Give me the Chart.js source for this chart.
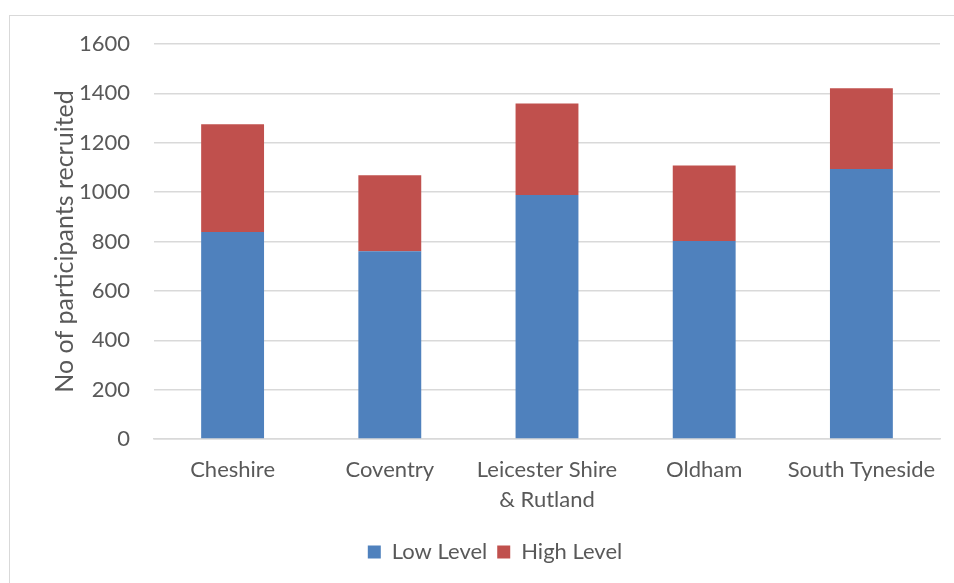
<!DOCTYPE html>
<html>
<head>
<meta charset="utf-8">
<script src="https://cdn.jsdelivr.net/npm/chart.js@4/dist/chart.umd.min.js"></script>
<style>
  html, body { margin: 0; padding: 0; background: #fff; overflow: hidden; }
  #frame { position: absolute; left: 9px; top: 15px; width: 1200px; height: 1000px; border: 1px solid #d9d9d9; }
  #wrap { position: absolute; left: 0; top: 0; width: 954px; height: 583px; }
</style>
</head>
<body>
<div id="frame"></div>
<div id="wrap"><canvas id="chart" width="954" height="583"></canvas></div>
<script>
const categories = ['Cheshire', 'Coventry', ['Leicester Shire', '& Rutland'], 'Oldham', 'South Tyneside'];
const lowLevel = [838, 761, 988, 802, 1094];
const highLevel = [437, 307, 371, 306, 327];
const yTicks = [0, 200, 400, 600, 800, 1000, 1200, 1400, 1600];

const textColor = '#595959';
const fontFamily = 'Lato, "Open Sans", sans-serif';

new Chart(document.getElementById('chart'), {
  type: 'bar',
  data: {
    labels: categories,
    datasets: [
      { label: 'Low Level', data: lowLevel, backgroundColor: '#4F81BD', borderWidth: 0 },
      { label: 'High Level', data: highLevel, backgroundColor: '#C0504D', borderWidth: 0 }
    ]
  },
  options: {
    responsive: false,
    animation: false,
    layout: { padding: { left: 50, top: 44, right: 14, bottom: 10 } },
    datasets: { bar: { barPercentage: 0.4, categoryPercentage: 1.0 } },
    plugins: {
      legend: {
        position: 'bottom',
        labels: {
          boxWidth: 13, boxHeight: 13, padding: 10,
          color: textColor,
          font: { family: fontFamily, size: 22 }
        }
      },
      tooltip: { enabled: false }
    },
    scales: {
      x: {
        stacked: true,
        afterFit: (axis) => { axis.height = 92; },
        grid: { display: false, drawTicks: false },
        border: { display: true, color: '#d9d9d9', width: 1.5 },
        ticks: {
          color: textColor, padding: 16,
          font: { family: fontFamily, size: 22, lineHeight: 1.36 },
          maxRotation: 0
        }
      },
      y: {
        stacked: true,
        min: 0, max: 1600,
        afterBuildTicks: (axis) => { axis.ticks = yTicks.map(v => ({ value: v })); },
        afterFit: (axis) => { axis.width = 104; },
        grid: { color: '#d9d9d9', lineWidth: 1.5, drawTicks: false },
        border: { display: false },
        ticks: {
          color: textColor, padding: 24,
          font: { family: fontFamily, size: 22 },
          callback: (v) => String(v)
        },
        title: {
          display: true,
          text: 'No of participants recruited',
          color: textColor,
          padding: { top: 0, bottom: 0 },
          font: { family: fontFamily, size: 25 }
        }
      }
    }
  }
});
</script>
</body>
</html>
